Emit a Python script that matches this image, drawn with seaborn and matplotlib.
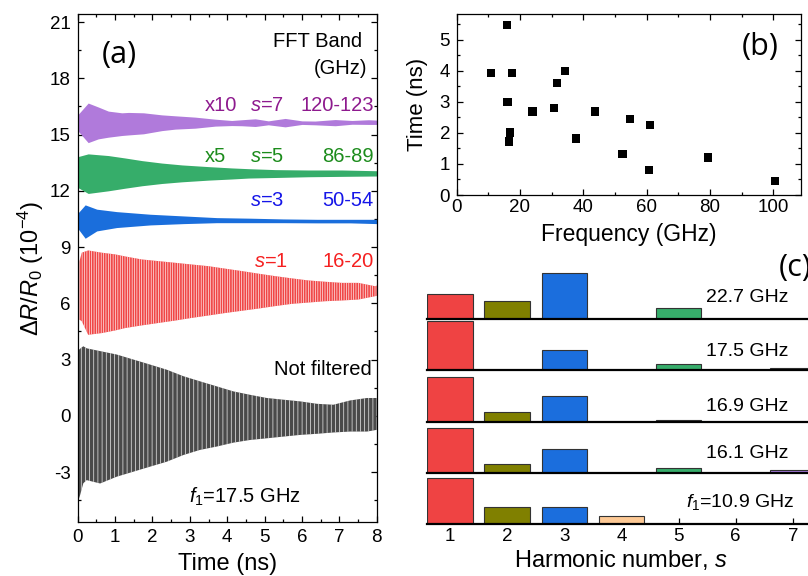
import matplotlib
matplotlib.use("Agg")
import matplotlib.pyplot as plt
import seaborn as sns
from matplotlib.ticker import MultipleLocator

# ---------------- data: panel (a) envelopes ----------------
t_purple = [0.0, 0.28, 0.55, 0.82, 1.18, 1.36, 1.76, 2.25, 2.61, 3.14, 3.68, 4.12,
            4.39, 4.75, 5.10, 5.55, 6.0, 6.35, 6.89, 7.34, 7.78, 8.0]
up_purple = [16.05, 16.68, 16.47, 16.25, 16.16, 16.18, 16.16, 16.05, 16.0, 15.93, 15.82, 15.75,
             15.79, 15.84, 15.73, 15.86, 15.73, 15.72, 15.80, 15.75, 15.79, 15.77]
lo_purple = [15.21, 14.57, 14.77, 14.86, 14.95, 14.98, 15.04, 15.21, 15.29, 15.34, 15.45, 15.48,
             15.47, 15.43, 15.52, 15.41, 15.54, 15.52, 15.47, 15.55, 15.54, 15.54]

t_green = [0.0, 0.28, 0.82, 1.27, 1.72, 2.25, 2.79, 3.5, 4.12, 4.57, 5.28, 6.17, 7.07, 8.0]
up_green = [13.82, 13.97, 13.88, 13.75, 13.61, 13.48, 13.38, 13.29, 13.22, 13.18, 13.13, 13.11, 13.11, 13.07]
lo_green = [12.18, 11.86, 12.0, 12.14, 12.27, 12.39, 12.48, 12.57, 12.63, 12.68, 12.71, 12.75, 12.77, 12.79]

t_blue = [0.0, 0.2, 0.51, 1.04, 1.94, 2.83, 3.72, 4.61, 5.5, 6.4, 7.29, 8.0]
up_blue = [10.8, 11.25, 11.02, 10.89, 10.75, 10.66, 10.57, 10.54, 10.5, 10.48, 10.48, 10.48]
lo_blue = [10.0, 9.47, 9.86, 10.04, 10.18, 10.25, 10.3, 10.3, 10.3, 10.29, 10.29, 10.25]

t_red = [0.0, 0.11, 0.28, 0.64, 1.0, 1.27, 1.71, 2.16, 2.61, 3.05, 3.5, 3.94, 4.39, 4.84,
         5.28, 5.73, 6.17, 6.62, 7.07, 7.51, 7.96, 8.0]
up_red = [7.9, 8.70, 8.82, 8.70, 8.61, 8.5, 8.34, 8.25, 8.16, 8.07, 7.98, 7.85, 7.72, 7.58,
          7.45, 7.33, 7.22, 7.15, 7.09, 7.09, 6.91, 6.95]
lo_red = [5.2, 5.04, 4.32, 4.41, 4.55, 4.68, 4.82, 4.95, 5.08, 5.22, 5.35, 5.48, 5.6, 5.72,
          5.85, 5.97, 6.04, 6.11, 6.15, 6.2, 6.38, 6.4]

t_black = [0.0, 0.04, 0.15, 0.24, 0.6, 1.04, 1.49, 1.94, 2.38, 2.83, 3.27, 3.72, 4.17,
           4.61, 5.06, 5.5, 5.95, 6.4, 6.84, 7.29, 7.74, 8.0]
up_black = [3.2, 3.54, 3.71, 3.6, 3.45, 3.27, 3.0, 2.73, 2.46, 2.11, 1.84, 1.57, 1.30,
            1.12, 0.95, 0.86, 0.77, 0.64, 0.59, 0.82, 0.95, 0.95]
lo_black = [-3.0, -4.41, -3.6, -3.43, -3.61, -3.25, -2.98, -2.71, -2.45, -2.09, -1.82, -1.64, -1.43,
            -1.29, -1.2, -1.11, -1.02, -0.96, -0.89, -0.84, -0.84, -0.75]

# ---------------- data: panel (b) ----------------
freq_ghz = [10.8, 15.8, 17.5, 16.1, 16.8, 16.5, 24.0, 30.7, 31.6, 34.2, 37.7, 43.8,
            52.4, 54.7, 61.1, 60.8, 79.4, 100.5]
decay_ns = [3.93, 5.47, 3.93, 3.0, 2.01, 1.72, 2.68, 2.79, 3.61, 3.99, 1.82, 2.69,
            1.32, 2.45, 2.26, 0.80, 1.21, 0.46]

# ---------------- data: panel (c) ----------------
harmonics = [1, 2, 3, 4, 5, 6, 7]
amp_22_7 = [0.50, 0.36, 0.93, 0.0, 0.22, 0.0, 0.0]
amp_17_5 = [1.00, 0.0, 0.41, 0.0, 0.12, 0.0, 0.05]
amp_16_9 = [0.92, 0.20, 0.53, 0.0, 0.05, 0.0, 0.0]
amp_16_1 = [0.91, 0.18, 0.50, 0.0, 0.11, 0.0, 0.07]
amp_10_9 = [0.93, 0.34, 0.34, 0.16, 0.0, 0.0, 0.0]
panel_c_labels = ["22.7 GHz", "17.5 GHz", "16.9 GHz", "16.1 GHz", r"$f_1$=10.9 GHz"]
bar_colors = ["#EF4343", "#808000", "#1B6EDD", "#FDC995", "#37AD6B", "#8a8a8a", "#A77BE0"]

# ---------------- style ----------------
sns.set_theme(style="ticks")
plt.rcParams.update({
    "font.family": ["Liberation Sans", "DejaVu Sans"],
    "axes.unicode_minus": False,
    "mathtext.fontset": "custom",
    "mathtext.rm": "Liberation Sans",
    "mathtext.it": "Liberation Sans:italic",
    "mathtext.bf": "Liberation Sans:bold",
    "axes.edgecolor": "black",
    "axes.linewidth": 0.9,
    "xtick.color": "black",
    "ytick.color": "black",
    "text.color": "black",
    "axes.labelcolor": "black",
    "hatch.color": "white",
    "hatch.linewidth": 0.45,
})

W, H = 808, 576
fig = plt.figure(figsize=(W / 100, H / 100), dpi=100)

TICK_FS = 13.5
LABEL_FS = 17

# ---------------- panel (a) ----------------
axA = fig.add_axes([77.7 / W, (H - 522.3) / H, 299 / W, 508.3 / H])
axA.fill_between(t_purple, lo_purple, up_purple, color="#B07ADB", lw=0)
axA.fill_between(t_green, lo_green, up_green, color="#36AD6A", lw=0)
axA.fill_between(t_blue, lo_blue, up_blue, color="#1A6EDC", lw=0)
axA.fill_between(t_red, lo_red, up_red, facecolor="#F04646", edgecolor="white",
                 hatch="|||||||", lw=0)
axA.fill_between(t_black, lo_black, up_black, facecolor="#4A4A4A", edgecolor="white",
                 hatch="||||", lw=0)
axA.set_xlim(0, 8)
axA.set_ylim(-5.68, 21.43)
axA.xaxis.set_major_locator(MultipleLocator(1))
axA.xaxis.set_minor_locator(MultipleLocator(0.5))
axA.yaxis.set_major_locator(MultipleLocator(3))
axA.yaxis.set_minor_locator(MultipleLocator(1.5))
axA.tick_params(which="both", direction="in", top=True, right=True, width=0.9)
axA.tick_params(which="major", length=4.5, labelsize=TICK_FS)
axA.tick_params(which="minor", length=2.5)
axA.tick_params(axis="x", pad=5)
axA.tick_params(axis="y", pad=5)
axA.set_xlabel("Time (ns)", fontsize=LABEL_FS)
axA.xaxis.label.set_va("center")
axA.xaxis.set_label_coords(0.5, (522.3 - 564) / 508.3)
axA.set_ylabel(r"$\Delta R/R_0$ (10$^{-4}$)", fontsize=LABEL_FS)
axA.yaxis.label.set_va("center")
axA.yaxis.set_label_coords(-0.158, 0.5)

TXT = 14.5
axA.text(1.1, 19.23, "(a)", fontsize=22, family="Open Sans", ha="center", va="center")
axA.text(7.62, 19.94, "FFT Band", fontsize=TXT, ha="right", va="center")
axA.text(7.76, 18.52, "(GHz)", fontsize=TXT, ha="right", va="center")
c_p, c_g, c_b, c_r = "#8E1A8E", "#1C8C1C", "#1515E8", "#F52020"
axA.text(3.41, 16.55, "x10", color=c_p, fontsize=TXT, va="center")
axA.text(4.61, 16.55, r"$s$=7", color=c_p, fontsize=TXT, va="center")
axA.text(7.92, 16.55, "120-123", color=c_p, fontsize=TXT, ha="right", va="center")
axA.text(3.41, 13.84, "x5", color=c_g, fontsize=TXT, va="center")
axA.text(4.61, 13.84, r"$s$=5", color=c_g, fontsize=TXT, va="center")
axA.text(7.92, 13.84, "86-89", color=c_g, fontsize=TXT, ha="right", va="center")
axA.text(4.61, 11.47, r"$s$=3", color=c_b, fontsize=TXT, va="center")
axA.text(7.92, 11.47, "50-54", color=c_b, fontsize=TXT, ha="right", va="center")
axA.text(4.72, 8.25, r"$s$=1", color=c_r, fontsize=TXT, va="center")
axA.text(7.92, 8.25, "16-20", color=c_r, fontsize=TXT, ha="right", va="center")
axA.text(7.88, 2.46, "Not filtered", fontsize=TXT, ha="right", va="center")
axA.text(2.99, -4.32, r"$f_1$=17.5 GHz", fontsize=TXT, va="center")

# ---------------- panel (b) ----------------
axB = fig.add_axes([456.7 / W, (H - 195) / H, 344.3 / W, 181 / H])
sns.scatterplot(x=freq_ghz, y=decay_ns, marker="s", s=36, color="black",
                edgecolor="none", linewidth=0, ax=axB)
axB.set_xlim(0, 108.8)
axB.set_ylim(0, 5.82)
axB.xaxis.set_major_locator(MultipleLocator(20))
axB.xaxis.set_minor_locator(MultipleLocator(10))
axB.yaxis.set_major_locator(MultipleLocator(1))
axB.yaxis.set_minor_locator(MultipleLocator(0.5))
axB.tick_params(which="both", direction="in", top=True, right=True, width=0.9)
axB.tick_params(which="major", length=4.5, labelsize=TICK_FS)
axB.tick_params(which="minor", length=2.5)
axB.tick_params(axis="x", pad=3)
axB.tick_params(axis="y", pad=4.8)
axB.set_xlabel("Frequency (GHz)", fontsize=16.5)
axB.xaxis.label.set_va("center")
axB.xaxis.set_label_coords(0.5, (195 - 234) / 181)
axB.set_ylabel("Time (ns)", fontsize=16)
axB.yaxis.label.set_va("center")
axB.yaxis.set_label_coords(-0.114, 0.5)
axB.text(95.9, 4.77, "(b)", fontsize=22, family="Open Sans", ha="center", va="center")

# ---------------- panel (c) ----------------
baselines = [319, 370, 422, 473.3, 524]
amps = [amp_22_7, amp_17_5, amp_16_9, amp_16_1, amp_10_9]
label_y = [0.44, 0.385, 0.31, 0.41, 0.45]
label_x = [6.92, 6.92, 6.92, 6.92, 7.02]
sub_h = 51.25
palette = dict(zip(harmonics, bar_colors))
for i, (base, vals) in enumerate(zip(baselines, amps)):
    ax = fig.add_axes([427.3 / W, (H - base) / H, 388.3 / W, sub_h / H])
    ax.patch.set_alpha(0)
    sns.barplot(x=harmonics, y=vals, hue=harmonics, palette=palette, native_scale=True,
                dodge=False, legend=False, width=0.8, saturation=1, edgecolor="#333333",
                linewidth=0.8, errorbar=None, ax=ax)
    ax.set_xlim(0.6, 7.4)
    ax.set_ylim(0, sub_h / 49.3)
    for s in ("left", "right", "top"):
        ax.spines[s].set_visible(False)
    ax.spines["bottom"].set_linewidth(1.6)
    ax.set_yticks([])
    ax.set_ylabel("")
    ax.text(label_x[i], label_y[i], panel_c_labels[i], fontsize=14, ha="right", va="center")
    if i < len(baselines) - 1:
        ax.set_xticks([])
        ax.set_xlabel("")
    else:
        ax.set_xticks(harmonics)
        ax.set_xticklabels([str(h) for h in harmonics])
        ax.tick_params(axis="x", direction="in", length=4, width=0.9, labelsize=TICK_FS, pad=3)
        ax.set_xlabel("Harmonic number, $s$", fontsize=LABEL_FS)
        ax.xaxis.label.set_va("center")
        ax.xaxis.set_label_coords(0.5, (524 - 560) / sub_h)

fig.text(795 / W, 1 - 268 / H, "(c)", fontsize=22, family="Open Sans", ha="center", va="center")

fig.savefig("out.png", dpi=100)
